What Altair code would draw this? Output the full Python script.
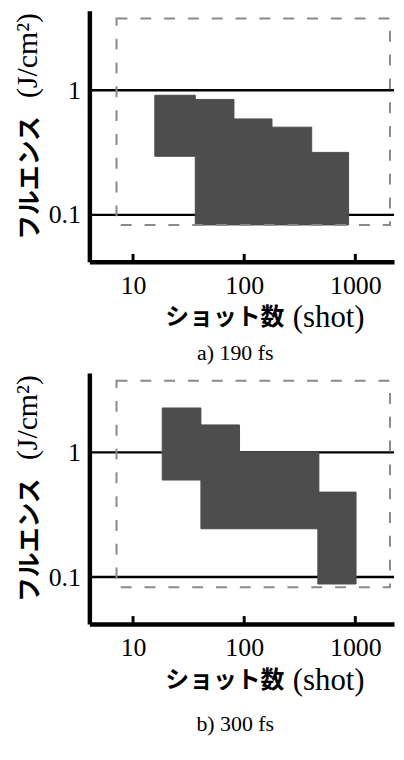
import altair as alt
import pandas as pd

# ---- data ----
a_x1 = [15.7, 36.3, 80.9, 178, 405]
a_x2 = [36.3, 80.9, 178, 405, 870]
a_y1 = [0.295, 0.083, 0.083, 0.083, 0.083]
a_y2 = [0.91, 0.843, 0.588, 0.505, 0.317]

b_x1 = [18.3, 40.8, 90.8, 460]
b_x2 = [40.8, 90.8, 470, 1015]
b_y1 = [0.60, 0.244, 0.244, 0.088]
b_y2 = [2.27, 1.66, 1.0, 0.48]

frame_x = [7.1, 2050]
frame_y = [0.083, 3.76]
ref_lines = [0.1, 1]
x_ticks = [10, 100, 1000]
y_ticks = [0.1, 1]
x_domain = [4.047, 2229]
y_domain = [0.042, 4.33]
captions = ["a) 190 fs", "b) 300 fs"]
y_title_jp = "フルエンス"
y_title_unit = "(J/cm²)"
x_title_jp = "ショット数"
x_title_unit = "(shot)"

W, H = 307, 253
SERIF = "Liberation Serif, Times New Roman, Times, serif"
CJK = "Noto Sans CJK JP"


def panel(x1, x2, y1, y2, caption, cap_y):
    xs = alt.Scale(type="log", domain=x_domain)
    ys = alt.Scale(type="log", domain=y_domain)
    xax = alt.Axis(values=x_ticks, format="d", title=None, labelPadding=11)
    yax = alt.Axis(values=y_ticks, format="~g", title=None, labelPadding=9)
    one = pd.DataFrame({"k": [0]})

    lines = alt.Chart(pd.DataFrame({"y": ref_lines})).mark_rule(
        color="black", strokeWidth=2.5
    ).encode(y=alt.Y("y:Q", scale=ys, axis=yax))

    rects = alt.Chart(pd.DataFrame({"x1": x1, "x2": x2, "y1": y1, "y2": y2})).mark_rect(
        color="#4d4d4d", stroke="#4d4d4d", strokeWidth=1
    ).encode(
        x=alt.X("x1:Q", scale=xs, axis=xax),
        x2="x2:Q",
        y=alt.Y("y1:Q", scale=ys, axis=yax),
        y2="y2:Q",
    )

    frame = alt.Chart(pd.DataFrame({"x1": [frame_x[0]], "x2": [frame_x[1]],
                                    "y1": [frame_y[0]], "y2": [frame_y[1]]})).mark_rect(
        fillOpacity=0, stroke="#8a8a8a", strokeWidth=2, strokeDash=[11, 13]
    ).encode(
        x=alt.X("x1:Q", scale=xs, axis=xax),
        x2="x2:Q",
        y=alt.Y("y1:Q", scale=ys, axis=yax),
        y2="y2:Q",
    )

    ticks = alt.Chart(pd.DataFrame({"x": x_ticks})).mark_rule(
        color="black", strokeWidth=3
    ).encode(x=alt.X("x:Q", scale=xs, axis=xax), y=alt.value(H - 8), y2=alt.value(H))

    def txt(text, x, y, font, size, weight="normal", angle=0, align="center"):
        kw = dict(text=text, font=font, fontSize=size, fontWeight=weight,
                  align=align, baseline="middle", color="black")
        if angle:
            kw["angle"] = angle
        return alt.Chart(one).mark_text(**kw).encode(x=alt.value(x), y=alt.value(y))

    texts = [
        txt(y_title_jp, -60, 168.5, CJK, 25, "bold", 270),
        txt(y_title_unit, -62, 45, SERIF, 30, "normal", 270),
        txt(x_title_jp, 136.5, 310, CJK, 24, "bold"),
        txt(x_title_unit, 205, 310, SERIF, 31, "normal", 0, "left"),
        txt(caption, 147, cap_y, SERIF, 22),
    ]

    return alt.layer(lines, rects, frame, ticks, *texts).properties(width=W, height=H)


pa = panel(a_x1, a_x2, a_y1, a_y2, captions[0], 345)
pb = panel(b_x1, b_x2, b_y1, b_y2, captions[1], 354)

chart = alt.vconcat(pa, pb, spacing=9).properties(
    padding={"left": 4, "top": 0, "right": 0, "bottom": 0},
).configure_view(stroke=None).configure_axis(
    domainColor="black", domainWidth=4.5, ticks=False, tickSize=0, grid=False,
    labelFont=SERIF, labelFontSize=26, labelColor="black"
)

chart.save("out.html", embed_options={"renderer": "svg", "actions": False})
